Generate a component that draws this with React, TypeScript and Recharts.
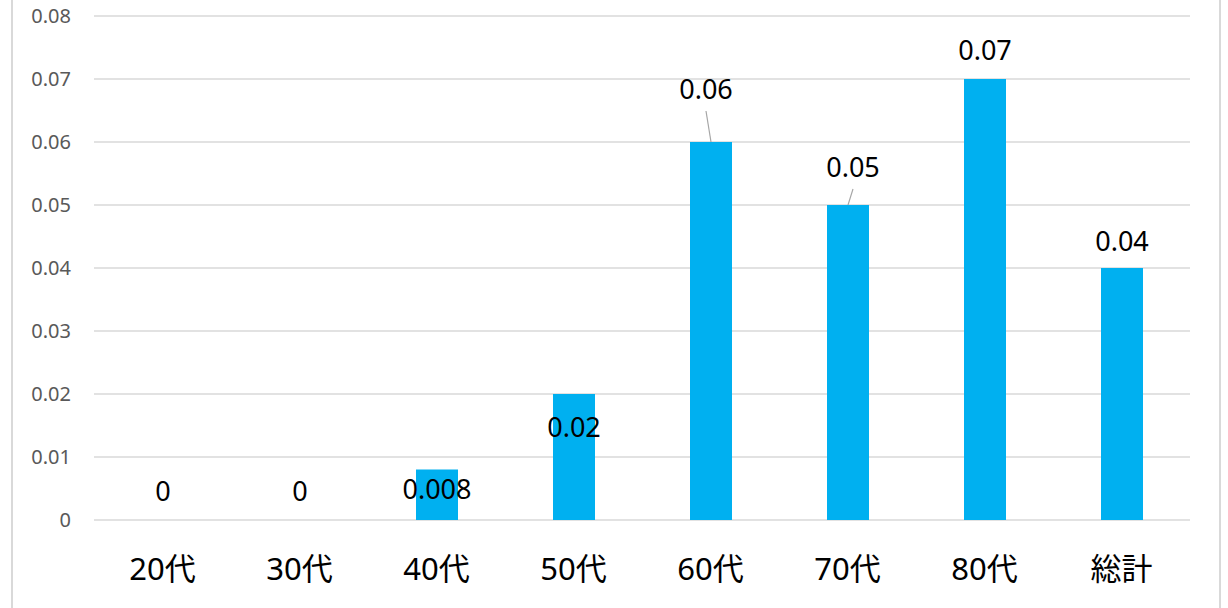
import { BarChart, Bar, XAxis, YAxis, CartesianGrid, LabelList, Cell } from "recharts";

const categories = ["20代", "30代", "40代", "50代", "60代", "70代", "80代", "総計"];
const values = [0, 0, 0.008, 0.02, 0.06, 0.05, 0.07, 0.04];
const valueLabels = ["0", "0", "0.008", "0.02", "0.06", "0.05", "0.07", "0.04"];
const yTicks = [0, 0.01, 0.02, 0.03, 0.04, 0.05, 0.06, 0.07, 0.08];

// label placement relative to the bar top (dx, dy) and whether a leader line is drawn
const labelPlacement: Array<[number, number, boolean]> = [
  [0, -30, false],
  [0, -30, false],
  [0, 19, false],
  [0, 32, false],
  [-5, -54, true],
  [5, -39, true],
  [0, -30, false],
  [0, -28, false],
];

const data = categories.map((name, i) => ({ name, value: values[i] }));

const FONT = "'Noto Sans', 'Noto Sans CJK JP', sans-serif";

function ValueLabel(props: any) {
  const { x, y, width, value } = props;
  const i = categories.indexOf(value);
  if (i < 0) return null;
  const [dx, dy, leader] = labelPlacement[i];
  const top = values[i] === 0 ? y + 1 : y;
  const cx = x + width / 2;
  const ly = top + dy;
  return (
    <g>
      {leader && (
        <line x1={cx + dx} y1={ly + 23} x2={cx} y2={top} stroke="#a6a6a6" strokeWidth={1.2} />
      )}
      <text
        x={cx + dx}
        y={ly}
        textAnchor="middle"
        dominantBaseline="central"
        fontFamily={FONT}
        fontSize={27}
        fill="#000"
      >
        {valueLabels[i]}
      </text>
    </g>
  );
}

export default function App() {
  return (
    <div style={{ position: "absolute", left: 0, top: 0, width: 1228, height: 608, background: "#fff", overflow: "hidden" }}>
      <div
        style={{
          position: "absolute",
          left: 11,
          top: -10,
          width: 1206,
          height: 640,
          borderLeft: "2px solid #d9d9d9",
          borderRight: "2px solid #d9d9d9",
        }}
      />
      <BarChart
        width={1228}
        height={608}
        data={data}
        margin={{ top: 16, right: 38, bottom: 0, left: 0 }}
        barCategoryGap={0}
      >
        <CartesianGrid vertical={false} stroke="#d9d9d9" strokeWidth={1.5} />
        <XAxis
          dataKey="name"
          axisLine={false}
          tickLine={false}
          tickSize={0}
          tickMargin={38}
          height={88}
          interval={0}
          tick={{ fontFamily: FONT, fontSize: 31, fill: "#000" }}
        />
        <YAxis
          domain={[0, 0.08]}
          ticks={yTicks}
          axisLine={false}
          tickLine={false}
          tickSize={0}
          tickMargin={23}
          width={94}
          interval={0}
          tickFormatter={(v: number) => (v === 0 ? "0" : v.toFixed(2))}
          tick={{ fontFamily: FONT, fontSize: 20, fill: "#595959" }}
        />
        <Bar dataKey="value" fill="#00b0f0" barSize={42} minPointSize={1} isAnimationActive={false}>
          {data.map((d) => (
            <Cell key={d.name} fill={d.value === 0 ? "none" : "#00b0f0"} />
          ))}
          <LabelList dataKey="name" content={<ValueLabel />} />
        </Bar>
      </BarChart>
    </div>
  );
}
